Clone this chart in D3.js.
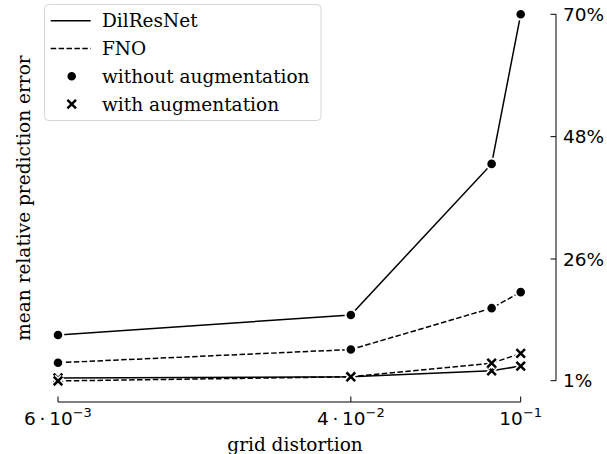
<!DOCTYPE html>
<html>
<head>
<meta charset="utf-8">
<script src="https://cdn.jsdelivr.net/npm/d3@7"></script>
<style>
  body { margin: 0; background: #fff; }
  svg { display: block; }
</style>
</head>
<body>
<svg id="chart" width="607" height="454"></svg>
<script>
// grid distortion values (x) and mean relative prediction error in % (y)
const distortion = [0.006, 0.0356, 0.0838, 0.1];
const dilresnetPlain = [10.4, 14.5, 43.1, 70];
const fnoPlain = [4.7, 7.4, 15.9, 19.2];
const dilresnetAug = [1.55, 1.8, 3.05, 4.0];
const fnoAug = [0.95, 1.8, 4.6, 6.6];

const xTicks = [0.006, 0.0356, 0.1];
const xTickLabels = [["6\u2009\u00b7\u200910", "\u22123"], ["4\u2009\u00b7\u200910", "\u22122"], ["10", "\u22121"]];
const yTicks = [1, 26, 48, 70];

const series = [
  { model: "DilResNet", marker: "circle", values: dilresnetPlain },
  { model: "FNO", marker: "circle", values: fnoPlain },
  { model: "DilResNet", marker: "cross", values: dilresnetAug },
  { model: "FNO", marker: "cross", values: fnoAug }
];

const svg = d3.select('#chart');
const serif = "DejaVu Serif, serif";
const sans = "DejaVu Sans, sans-serif";
const fs = 18.5;

const x = d3.scaleLog().domain([0.006, 0.1]).range([58, 520.7]);
const y = d3.scaleLinear().domain([1, 26, 70]).range([380.7, 259, 14.3]);

const dash = model => model === "FNO" ? "5.5,2.4" : null;

// lines
const line = d3.line().x((d, i) => x(distortion[i])).y(d => y(d));
series.forEach(s => {
  svg.append('path')
    .attr('d', line(s.values))
    .attr('fill', 'none')
    .attr('stroke', '#000')
    .attr('stroke-width', 1.5)
    .attr('stroke-dasharray', dash(s.model));
});

function drawMarker(g, type, cx, cy) {
  if (type === "circle") {
    g.append('circle')
      .attr('cx', cx).attr('cy', cy).attr('r', 5.3)
      .attr('fill', '#000')
      .attr('stroke', '#fff')
      .attr('stroke-width', 2);
  } else {
    const r = 4.3;
    const p = `M${cx - r},${cy - r}L${cx + r},${cy + r}M${cx - r},${cy + r}L${cx + r},${cy - r}`;
    g.append('path').attr('d', p).attr('stroke', '#fff').attr('stroke-width', 5.5).attr('fill', 'none');
    g.append('path').attr('d', p).attr('stroke', '#000').attr('stroke-width', 2.5).attr('fill', 'none');
  }
}

// markers
const markers = svg.append('g');
series.forEach(s => {
  s.values.forEach((v, i) => drawMarker(markers, s.marker, x(distortion[i]), y(v)));
});

// x axis (bounded spine, inward ticks)
const xAxisY = 402;
const xa = svg.append('g');
xa.append('line')
  .attr('x1', x(xTicks[0])).attr('x2', x(xTicks[xTicks.length - 1]))
  .attr('y1', xAxisY).attr('y2', xAxisY)
  .attr('stroke', '#000').attr('stroke-width', 1);
xTicks.forEach((t, i) => {
  xa.append('line')
    .attr('x1', x(t)).attr('x2', x(t))
    .attr('y1', xAxisY).attr('y2', xAxisY - 5.5)
    .attr('stroke', '#000').attr('stroke-width', 1);
  const txt = xa.append('text')
    .attr('x', x(t)).attr('y', 425)
    .attr('text-anchor', 'middle')
    .attr('font-family', sans)
    .attr('font-size', fs);
  txt.append('tspan').text(xTickLabels[i][0]);
  txt.append('tspan').attr('dy', -8.5).attr('font-size', 13).text(xTickLabels[i][1]);
});

// y axis on the right
const yAxisX = 556;
const ya = svg.append('g');
ya.append('line')
  .attr('x1', yAxisX).attr('x2', yAxisX)
  .attr('y1', y(yTicks[0])).attr('y2', y(yTicks[yTicks.length - 1]))
  .attr('stroke', '#000').attr('stroke-width', 1);
yTicks.forEach(t => {
  ya.append('line')
    .attr('x1', yAxisX - 5.5).attr('x2', yAxisX)
    .attr('y1', y(t)).attr('y2', y(t))
    .attr('stroke', '#000').attr('stroke-width', 1);
  ya.append('text')
    .attr('x', 563).attr('y', y(t))
    .attr('dy', '0.36em')
    .attr('font-family', sans)
    .attr('font-size', fs)
    .text(`${t}%`);
});

// axis labels
svg.append('text')
  .attr('x', 295).attr('y', 451)
  .attr('text-anchor', 'middle')
  .attr('font-family', serif)
  .attr('font-size', fs)
  .text('grid distortion');

svg.append('text')
  .attr('transform', 'translate(30,198) rotate(-90)')
  .attr('text-anchor', 'middle')
  .attr('font-family', serif)
  .attr('font-size', fs)
  .text('mean relative prediction error');

// legend
const legend = svg.append('g');
legend.append('rect')
  .attr('x', 44.5).attr('y', 4.5)
  .attr('width', 276.5).attr('height', 116)
  .attr('rx', 4)
  .attr('fill', '#fff').attr('fill-opacity', 0.8)
  .attr('stroke', '#d6d6d6').attr('stroke-width', 1);

const legendItems = [
  { label: "DilResNet", kind: "line", model: "DilResNet" },
  { label: "FNO", kind: "line", model: "FNO" },
  { label: "without augmentation", kind: "circle" },
  { label: "with augmentation", kind: "cross" }
];
legendItems.forEach((d, i) => {
  const cy = 20.7 + i * 27.8;
  if (d.kind === "line") {
    legend.append('line')
      .attr('x1', 50.7).attr('x2', 90.7)
      .attr('y1', cy).attr('y2', cy)
      .attr('stroke', '#000').attr('stroke-width', 1.5)
      .attr('stroke-dasharray', dash(d.model));
  } else {
    drawMarker(legend, d.kind, 71.7, cy);
  }
  legend.append('text')
    .attr('x', 102).attr('y', cy)
    .attr('dy', '0.35em')
    .attr('font-family', serif)
    .attr('font-size', fs)
    .text(d.label);
});
</script>
</body>
</html>
